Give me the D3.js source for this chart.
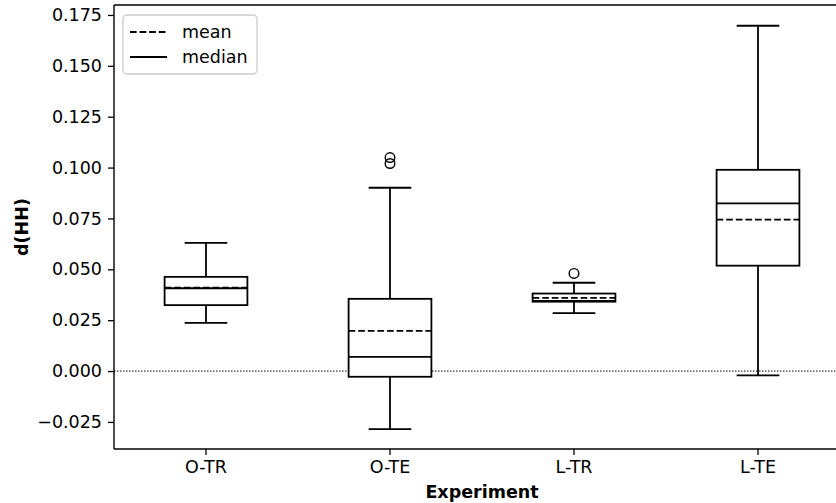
<!DOCTYPE html>
<html>
<head>
<meta charset="utf-8">
<script src="https://cdn.jsdelivr.net/npm/d3@7"></script>
<style>
  body { margin: 0; background: white; }
  svg text { font-family: "DejaVu Sans", sans-serif; }
</style>
</head>
<body>
<div id="chart"></div>
<script>
// values
var categories = ['O-TR', 'O-TE', 'L-TR', 'L-TE'];
var whiskerLow = [0.0237, -0.0285, 0.0285, -0.0021];
var q1 = [0.0324, -0.0028, 0.0341, 0.0518];
var median = [0.0407, 0.0070, 0.0345, 0.0824];
var mean = [0.0410, 0.0198, 0.0360, 0.0744];
var q3 = [0.0463, 0.0355, 0.0381, 0.0989];
var whiskerHigh = [0.0630, 0.0901, 0.0434, 0.1697];
var outliers = [[], [0.1020, 0.1049], [0.0480], []];
var yTicks = [-0.025, 0, 0.025, 0.05, 0.075, 0.1, 0.125, 0.15, 0.175];

var width = 836, height = 503;
var plotLeft = 114, plotRight = 850, plotTop = 5, plotBottom = 449;
var lw = 1.8;

var svg = d3.select('#chart').append('svg')
	.attr('width', width)
	.attr('height', height);

var x = d3.scaleBand().domain(categories).range([plotLeft, plotRight]).paddingInner(0).paddingOuter(0);
var y = d3.scaleLinear().domain([-0.0383, 0.1799]).range([plotBottom, plotTop]);

var boxW = x.bandwidth() * 0.45;
var capW = boxW * 0.515;
var cx = function(i) { return x(categories[i]) + x.bandwidth() / 2; };

// zero reference line
svg.append('line')
	.attr('x1', plotLeft).attr('x2', width)
	.attr('y1', y(0)).attr('y2', y(0))
	.attr('stroke', 'black')
	.attr('stroke-width', 1)
	.attr('stroke-dasharray', '1.5,1.5');

var boxes = svg.selectAll('.box').data(categories).enter().append('g').attr('class', 'box');

boxes.each(function(d, i) {
	var g = d3.select(this);
	var c = cx(i);
	// whiskers
	g.append('line').attr('x1', c).attr('x2', c).attr('y1', y(q1[i])).attr('y2', y(whiskerLow[i]))
		.attr('stroke', 'black').attr('stroke-width', lw);
	g.append('line').attr('x1', c).attr('x2', c).attr('y1', y(q3[i])).attr('y2', y(whiskerHigh[i]))
		.attr('stroke', 'black').attr('stroke-width', lw);
	// caps
	g.append('line').attr('x1', c - capW / 2).attr('x2', c + capW / 2).attr('y1', y(whiskerLow[i])).attr('y2', y(whiskerLow[i]))
		.attr('stroke', 'black').attr('stroke-width', lw);
	g.append('line').attr('x1', c - capW / 2).attr('x2', c + capW / 2).attr('y1', y(whiskerHigh[i])).attr('y2', y(whiskerHigh[i]))
		.attr('stroke', 'black').attr('stroke-width', lw);
	// box
	g.append('rect')
		.attr('x', c - boxW / 2)
		.attr('y', y(q3[i]))
		.attr('width', boxW)
		.attr('height', y(q1[i]) - y(q3[i]))
		.attr('fill', 'white')
		.attr('stroke', 'black')
		.attr('stroke-width', lw);
	// median
	g.append('line').attr('x1', c - boxW / 2).attr('x2', c + boxW / 2).attr('y1', y(median[i])).attr('y2', y(median[i]))
		.attr('stroke', 'black').attr('stroke-width', lw);
	// mean
	g.append('line').attr('x1', c - boxW / 2).attr('x2', c + boxW / 2).attr('y1', y(mean[i])).attr('y2', y(mean[i]))
		.attr('stroke', 'black').attr('stroke-width', lw)
		.attr('stroke-dasharray', '6.7,2.9');
	// fliers
	g.selectAll('circle').data(outliers[i]).enter().append('circle')
		.attr('cx', c)
		.attr('cy', function(v) { return y(v); })
		.attr('r', 4.8)
		.attr('fill', 'none')
		.attr('stroke', 'black')
		.attr('stroke-width', 1.4);
});

// axes
var yAxis = d3.axisLeft(y).tickValues(yTicks).tickFormat(d3.format('.3f')).tickSize(6).tickPadding(6);
var gy = svg.append('g').attr('transform', 'translate(' + plotLeft + ',0)').call(yAxis);
var xAxis = d3.axisBottom(x).tickSize(6).tickPadding(6);
var gx = svg.append('g').attr('transform', 'translate(0,' + plotBottom + ')').call(xAxis);

[gx, gy].forEach(function(g) {
	g.select('.domain').remove();
	g.selectAll('.tick line').attr('stroke', 'black').attr('stroke-width', 1.3);
	g.selectAll('.tick text').attr('font-size', '17.5px').attr('fill', 'black');
});

// spines
svg.append('line').attr('x1', plotLeft).attr('x2', plotLeft).attr('y1', plotTop).attr('y2', plotBottom)
	.attr('stroke', 'black').attr('stroke-width', 1.4);
svg.append('line').attr('x1', plotLeft).attr('x2', width).attr('y1', plotBottom).attr('y2', plotBottom)
	.attr('stroke', 'black').attr('stroke-width', 1.4);
svg.append('line').attr('x1', plotLeft).attr('x2', width).attr('y1', plotTop).attr('y2', plotTop)
	.attr('stroke', 'black').attr('stroke-width', 1.4);

// axis titles
svg.append('text')
	.attr('x', (plotLeft + plotRight) / 2)
	.attr('y', 498)
	.attr('text-anchor', 'middle')
	.attr('font-size', '17.5px')
	.attr('font-weight', 'bold')
	.text('Experiment');

svg.append('text')
	.attr('transform', 'translate(28,' + (plotTop + plotBottom) / 2 + ') rotate(-90)')
	.attr('text-anchor', 'middle')
	.attr('font-size', '17.5px')
	.attr('font-weight', 'bold')
	.text('d(HH)');

// legend
var legend = svg.append('g');
legend.append('rect')
	.attr('x', 123).attr('y', 15)
	.attr('width', 134).attr('height', 59)
	.attr('rx', 4).attr('ry', 4)
	.attr('fill', 'white').attr('fill-opacity', 0.8)
	.attr('stroke', '#cccccc').attr('stroke-width', 1.3);

var legendItems = [{label: 'mean', dash: '6.7,2.9'}, {label: 'median', dash: null}];
legendItems.forEach(function(d, i) {
	var ly = 32 + i * 25;
	legend.append('line')
		.attr('x1', 130).attr('x2', 167)
		.attr('y1', ly).attr('y2', ly)
		.attr('stroke', 'black').attr('stroke-width', lw)
		.attr('stroke-dasharray', d.dash);
	legend.append('text')
		.attr('x', 182).attr('y', ly)
		.attr('dy', '0.35em')
		.attr('font-size', '17.5px')
		.text(d.label);
});
</script>
</body>
</html>
